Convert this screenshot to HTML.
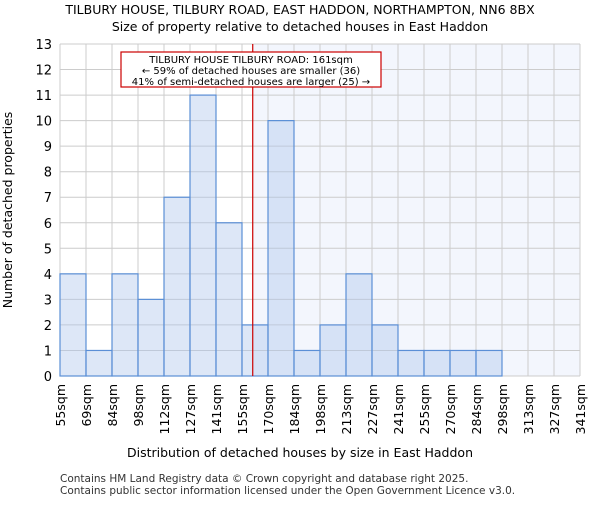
<!DOCTYPE html>
<html><head><meta charset="utf-8"><style>body{margin:0;background:#fff}svg{font-family:"DejaVu Sans","Liberation Sans",sans-serif}</style></head>
<body>
<svg id="c" width="600" height="500">
<text x="300" y="14" text-anchor="middle" font-size="12.5">TILBURY HOUSE, TILBURY ROAD, EAST HADDON, NORTHAMPTON, NN6 8BX</text>
<text x="300" y="31" text-anchor="middle" font-size="12.5">Size of property relative to detached houses in East Haddon</text>
<text x="300" y="457" text-anchor="middle" font-size="12.5">Distribution of detached houses by size in East Haddon</text>
<text transform="translate(12,210) rotate(-90)" text-anchor="middle" font-size="12.5">Number of detached properties</text>
<text x="60" y="482" font-size="10.5" fill="#333">Contains HM Land Registry data © Crown copyright and database right 2025.</text>
<text x="60" y="494" font-size="10.5" fill="#333">Contains public sector information licensed under the Open Government Licence v3.0.</text>
</svg>
<script>
const labels=["55sqm","69sqm","84sqm","98sqm","112sqm","127sqm","141sqm","155sqm","170sqm","184sqm","198sqm","213sqm","227sqm","241sqm","255sqm","270sqm","284sqm","298sqm","313sqm","327sqm","341sqm"];
const counts=[4,1,4,3,7,11,6,2,10,1,2,4,2,1,1,1,1,0,0,0];
const yTicks=[0,1,2,3,4,5,6,7,8,9,10,11,12,13];
const binStart=55, binEnd=341, propertySize=161;
const svg=document.getElementById('c'),NS='http://www.w3.org/2000/svg';
const X0=60,X1=580,Y0=376,Y1=44,yMax=13;
const bw=(X1-X0)/counts.length;
const xs=v=>X0+(v-binStart)/(binEnd-binStart)*(X1-X0);
const ys=v=>Y0-v/yMax*(Y0-Y1);
function mk(t,a,p){const e=document.createElementNS(NS,t);for(const k in a)e.setAttribute(k,a[k]);(p||svg).appendChild(e);return e;}
const mx=xs(propertySize);
let bg=mk('rect',{x:mx,y:Y1,width:X1-mx,height:Y0-Y1,fill:'#f3f6fd'});


yTicks.forEach(t=>{const l=mk('line',{x1:X0,x2:X1,y1:ys(t),y2:ys(t),stroke:'#ccc'});


const tx=mk('text',{x:X0-8,y:ys(t)+5,'text-anchor':'end','font-size':13});tx.textContent=t;

});
labels.forEach((s,i)=>{const x=X0+i*bw;const l=mk('line',{x1:x,x2:x,y1:Y1,y2:Y0,stroke:'#ccc'});


const tx=mk('text',{transform:`translate(${x+5},${Y0+8}) rotate(-90)`,'text-anchor':'end','font-size':12.5});tx.textContent=s;

});
counts.forEach((c,i)=>{if(!c)return;const r=mk('rect',{x:X0+i*bw,y:ys(c),width:bw,height:Y0-ys(c),fill:'rgba(175,198,235,0.42)',stroke:'#5b8fd6','stroke-width':1.2});

});
let ml=mk('line',{x1:mx,x2:mx,y1:Y1,y2:Y0,stroke:'#cc0000','stroke-width':1.2});


const g=mk('g',{});


mk('rect',{x:121,y:52,width:260,height:35,fill:'#fff',stroke:'#cc0000','stroke-width':1.2},g);
[["TILBURY HOUSE TILBURY ROAD: 161sqm",63],["← 59% of detached houses are smaller (36)",74],["41% of semi-detached houses are larger (25) →",85]].forEach(([s,y])=>{const t=mk('text',{x:251,y:y,'text-anchor':'middle','font-size':10},g);t.textContent=s;});
</script>
</body></html>
